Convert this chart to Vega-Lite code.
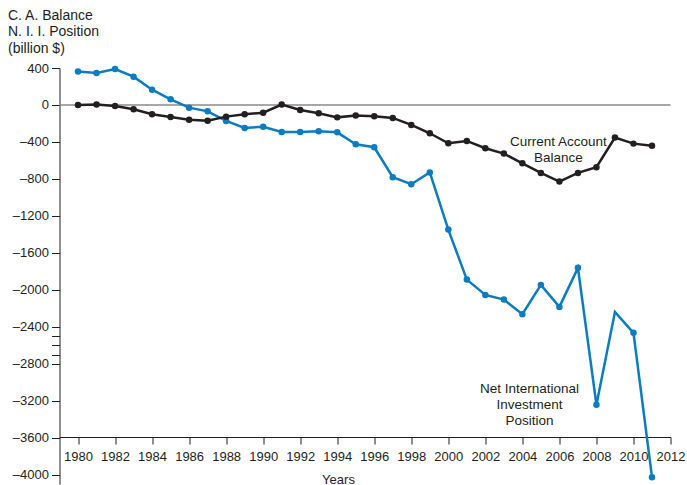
{
  "$schema": "https://vega.github.io/schema/vega-lite/v6.json",
  "width": 611,
  "height": 416,
  "autosize": {"type": "none"},
  "padding": {"left": 59.5, "top": 68, "right": 16.5, "bottom": 1},
  "config": {
    "view": {"stroke": null},
    "font": "Liberation Sans",
    "axis": {"labelFont": "Liberation Sans", "titleFont": "Liberation Sans", "labelColor": "#231f20", "titleColor": "#231f20", "domainColor": "#231f20", "tickColor": "#231f20", "grid": false, "titleFontWeight": "normal"}
  },
  "datasets": {
    "series": [
      {"year": 1980, "series": "NIIP", "value": 363},
      {"year": 1981, "series": "NIIP", "value": 346},
      {"year": 1982, "series": "NIIP", "value": 389},
      {"year": 1983, "series": "NIIP", "value": 306},
      {"year": 1984, "series": "NIIP", "value": 165},
      {"year": 1985, "series": "NIIP", "value": 61},
      {"year": 1986, "series": "NIIP", "value": -29},
      {"year": 1987, "series": "NIIP", "value": -69},
      {"year": 1988, "series": "NIIP", "value": -173},
      {"year": 1989, "series": "NIIP", "value": -249},
      {"year": 1990, "series": "NIIP", "value": -235},
      {"year": 1991, "series": "NIIP", "value": -292},
      {"year": 1992, "series": "NIIP", "value": -292},
      {"year": 1993, "series": "NIIP", "value": -285},
      {"year": 1994, "series": "NIIP", "value": -296},
      {"year": 1995, "series": "NIIP", "value": -425},
      {"year": 1996, "series": "NIIP", "value": -457},
      {"year": 1997, "series": "NIIP", "value": -781},
      {"year": 1998, "series": "NIIP", "value": -857},
      {"year": 1999, "series": "NIIP", "value": -730},
      {"year": 2000, "series": "NIIP", "value": -1348},
      {"year": 2001, "series": "NIIP", "value": -1889},
      {"year": 2002, "series": "NIIP", "value": -2055},
      {"year": 2003, "series": "NIIP", "value": -2105},
      {"year": 2004, "series": "NIIP", "value": -2264},
      {"year": 2005, "series": "NIIP", "value": -1946},
      {"year": 2006, "series": "NIIP", "value": -2184},
      {"year": 2007, "series": "NIIP", "value": -1762},
      {"year": 2008, "series": "NIIP", "value": -3243},
      {"year": 2009, "series": "NIIP", "value": -2238},
      {"year": 2010, "series": "NIIP", "value": -2465},
      {"year": 2011, "series": "NIIP", "value": -4026},
      {"year": 1980, "series": "CA", "value": 0},
      {"year": 1981, "series": "CA", "value": 4},
      {"year": 1982, "series": "CA", "value": -11},
      {"year": 1983, "series": "CA", "value": -47},
      {"year": 1984, "series": "CA", "value": -101},
      {"year": 1985, "series": "CA", "value": -130},
      {"year": 1986, "series": "CA", "value": -159},
      {"year": 1987, "series": "CA", "value": -170},
      {"year": 1988, "series": "CA", "value": -126},
      {"year": 1989, "series": "CA", "value": -101},
      {"year": 1990, "series": "CA", "value": -83},
      {"year": 1991, "series": "CA", "value": 4},
      {"year": 1992, "series": "CA", "value": -54},
      {"year": 1993, "series": "CA", "value": -90},
      {"year": 1994, "series": "CA", "value": -134},
      {"year": 1995, "series": "CA", "value": -115},
      {"year": 1996, "series": "CA", "value": -122},
      {"year": 1997, "series": "CA", "value": -140},
      {"year": 1998, "series": "CA", "value": -216},
      {"year": 1999, "series": "CA", "value": -306},
      {"year": 2000, "series": "CA", "value": -414},
      {"year": 2001, "series": "CA", "value": -389},
      {"year": 2002, "series": "CA", "value": -468},
      {"year": 2003, "series": "CA", "value": -526},
      {"year": 2004, "series": "CA", "value": -631},
      {"year": 2005, "series": "CA", "value": -735},
      {"year": 2006, "series": "CA", "value": -829},
      {"year": 2007, "series": "CA", "value": -735},
      {"year": 2008, "series": "CA", "value": -674},
      {"year": 2009, "series": "CA", "value": -353},
      {"year": 2010, "series": "CA", "value": -418},
      {"year": 2011, "series": "CA", "value": -440}
    ],
    "labels": [
      {"year": 2005.94, "value": -397, "text": "Current Account\nBalance"},
      {"year": 2004.38, "value": -3076, "text": "Net International\nInvestment\nPosition"}
    ]
  },
  "layer": [
    {
      "data": {"values": [{"value": 0}]},
      "mark": {"type": "rule", "color": "#8a8a8a", "strokeWidth": 1.5},
      "encoding": {
        "y": {"field": "value", "type": "quantitative", "scale": {"domain": [-4100, 400], "nice": false, "zero": false},
          "axis": {
            "values": [400, 0, -400, -800, -1200, -1600, -2000, -2400, -2500, -2600, -2700, -2800, -3200, -3600, -4000],
            "tickCount": 100,
            "labelExpr": "(datum.value == -2500 || datum.value == -2600 || datum.value == -2700) ? '' : (datum.value < 0 ? '\u2013' + format(-datum.value, 'd') : format(datum.value, 'd'))",
            "labelOverlap": false,
            "labelBound": false,
            "labelFlush": false,
            "labelFontSize": 13,
            "tickSize": 8,
            "labelPadding": 3,
            "title": ["C. A. Balance", "N. I. I. Position", "(billion $)"],
            "titleFontSize": 14,
            "titleLineHeight": 16.5,
            "titleAngle": 0,
            "titleAlign": "left",
            "titleBaseline": "top",
            "titleX": -52,
            "titleY": -60
          }
        }
      }
    },
    {
      "data": {"name": "series"},
      "mark": {"type": "line", "strokeWidth": 2.5},
      "encoding": {
        "x": {"field": "year", "type": "quantitative", "scale": {"domain": [1979, 2012], "nice": false, "zero": false},
          "axis": {
            "values": [1980, 1982, 1984, 1986, 1988, 1990, 1992, 1994, 1996, 1998, 2000, 2002, 2004, 2006, 2008, 2010, 2012],
            "tickCount": 100,
            "format": "d",
            "labelOverlap": false,
            "labelBound": false,
            "labelFlush": false,
            "offset": -47,
            "labelFontSize": 13,
            "tickSize": 7,
            "labelPadding": 6,
            "title": "Years",
            "titleFontSize": 13,
            "titleX": 278.5,
            "titleY": 46,
            "titleBaseline": "alphabetic",
            "titleAlign": "center"
          }
        },
        "y": {"field": "value", "type": "quantitative"},
        "color": {"field": "series", "type": "nominal", "scale": {"domain": ["NIIP", "CA"], "range": ["#0a7cc1", "#231f20"]}, "legend": null},
        "order": {"field": "year", "type": "quantitative"}
      }
    },
    {
      "data": {"name": "series"},
      "transform": [{"filter": "!(datum.series == 'NIIP' && datum.year == 2009)"}],
      "mark": {"type": "point", "filled": true, "opacity": 1, "size": 42},
      "encoding": {
        "x": {"field": "year", "type": "quantitative"},
        "y": {"field": "value", "type": "quantitative"},
        "color": {"field": "series", "type": "nominal", "legend": null}
      }
    },
    {
      "data": {"name": "labels"},
      "mark": {"type": "text", "fontSize": 13.5, "lineHeight": 16, "lineBreak": "\n", "align": "center", "baseline": "middle", "color": "#231f20", "font": "Liberation Sans"},
      "encoding": {
        "x": {"field": "year", "type": "quantitative"},
        "y": {"field": "value", "type": "quantitative"},
        "text": {"field": "text"}
      }
    }
  ]
}
